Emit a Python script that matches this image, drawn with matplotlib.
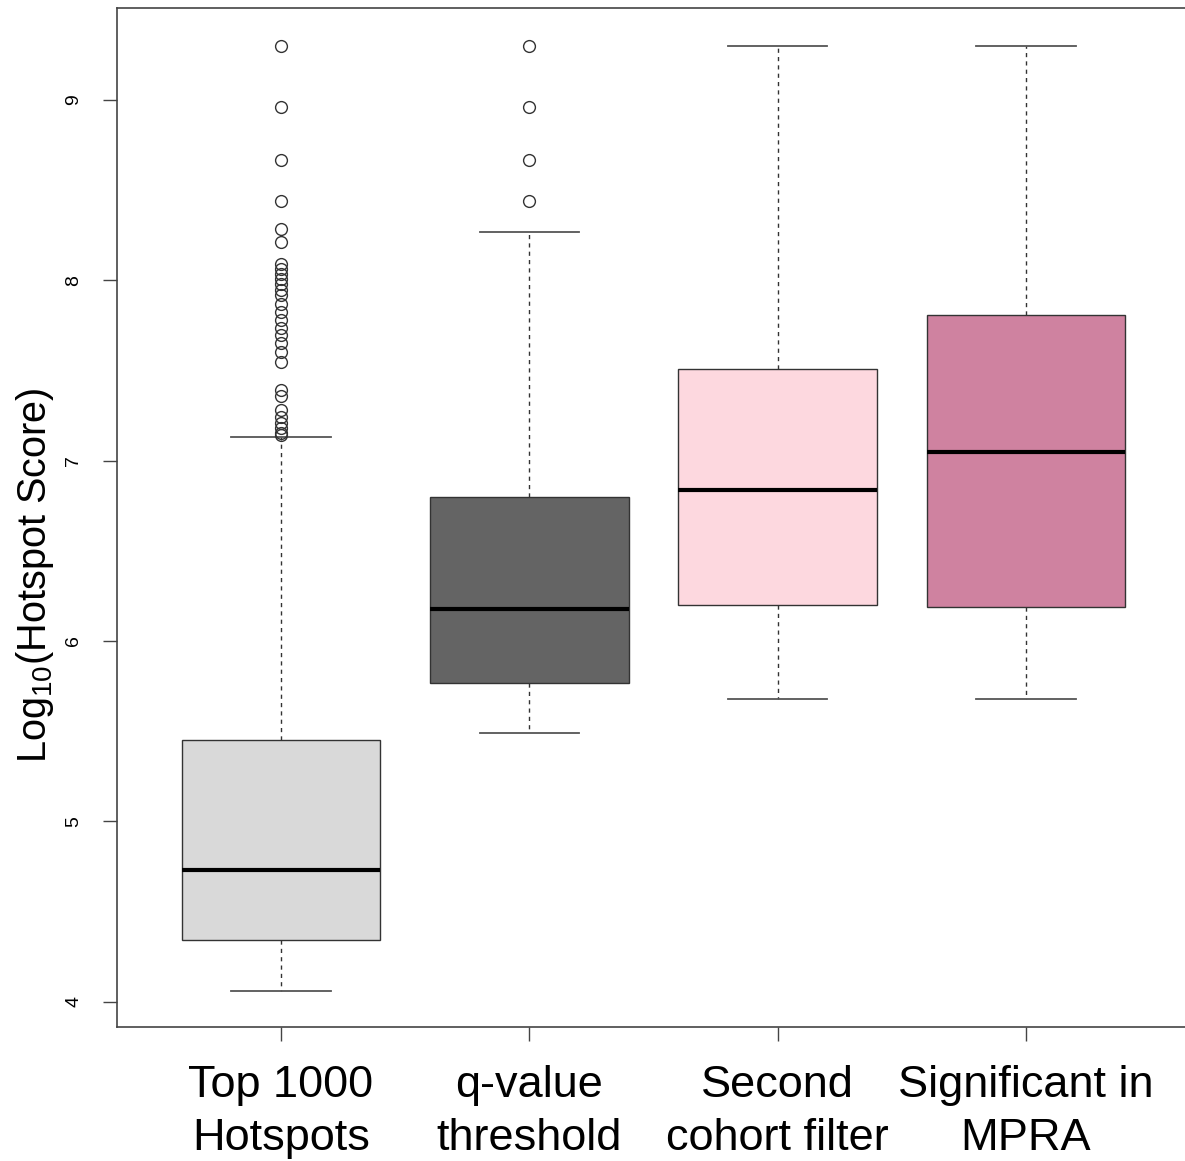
import matplotlib.pyplot as plt

plt.rcParams['font.family'] = ['Liberation Sans', 'DejaVu Sans']
plt.rcParams['mathtext.fontset'] = 'custom'
plt.rcParams['mathtext.rm'] = 'Liberation Sans'

# categories and summary stats
labels = ['Top 1000\nHotspots', 'q-value\nthreshold', 'Second\ncohort filter', 'Significant in\nMPRA']
whislo = [4.06, 5.49, 5.68, 5.68]
q1 = [4.34, 5.77, 6.20, 6.19]
med = [4.73, 6.18, 6.84, 7.05]
q3 = [5.45, 6.80, 7.51, 7.81]
whishi = [7.13, 8.27, 9.30, 9.30]
fliers_top = [9.30, 8.96, 8.67, 8.44, 8.285, 8.215, 8.09, 8.063, 8.035, 8.008,
              7.98, 7.947, 7.92, 7.87, 7.825, 7.78, 7.736, 7.697, 7.653, 7.603,
              7.548, 7.392, 7.359, 7.28, 7.243, 7.21, 7.182, 7.154, 7.14]
fliers_q = [9.30, 8.96, 8.67, 8.44]
colors = ['#d9d9d9', '#646464', '#fdd8df', '#cf82a0']

stats = []
fl = [fliers_top, fliers_q, [], []]
for i in range(len(labels)):
    stats.append(dict(label=labels[i], whislo=whislo[i], q1=q1[i], med=med[i],
                      q3=q3[i], whishi=whishi[i], fliers=fl[i]))

fig = plt.figure(figsize=(11.85, 11.61), dpi=100)
ax = fig.add_axes([0.0987, 0.1154, 0.9055, 0.8777])

bp = ax.bxp(stats, positions=[1, 2, 3, 4], widths=0.8, capwidths=0.4,
            patch_artist=True,
            boxprops=dict(edgecolor='#333333', linewidth=1.0),
            medianprops=dict(color='black', linewidth=3),
            whiskerprops=dict(color='#333333', linewidth=1.0, linestyle=(0, (3, 3))),
            capprops=dict(color='#555555', linewidth=1.3),
            flierprops=dict(marker='o', markerfacecolor='none', markeredgecolor='#333333',
                            markersize=8.5, markeredgewidth=1.0, linestyle='none'))
for patch, c in zip(bp['boxes'], colors):
    patch.set_facecolor(c)

ax.set_xlim(0.34, 4.66)
ax.set_ylim(3.86, 9.51)
ax.set_yticks([4, 5, 6, 7, 8, 9])
ax.set_yticklabels(['4', '5', '6', '7', '8', '9'], rotation=90, va='center', fontsize=14)
ax.set_xticks([1, 2, 3, 4])
ax.set_xticklabels(labels, fontsize=32.5, linespacing=1.38)
ax.tick_params(axis='y', length=10, width=1, color='#444444', pad=15)
ax.tick_params(axis='x', length=10, width=1, color='#444444', pad=17)
for s in ax.spines.values():
    s.set_color('#444444')
    s.set_linewidth(1.2)

ax.set_ylabel('Log$_{10}$(Hotspot Score)', fontsize=28.5)
ax.yaxis.set_label_coords(-0.057, 0.4436)

fig.savefig('out.png', dpi=100)
